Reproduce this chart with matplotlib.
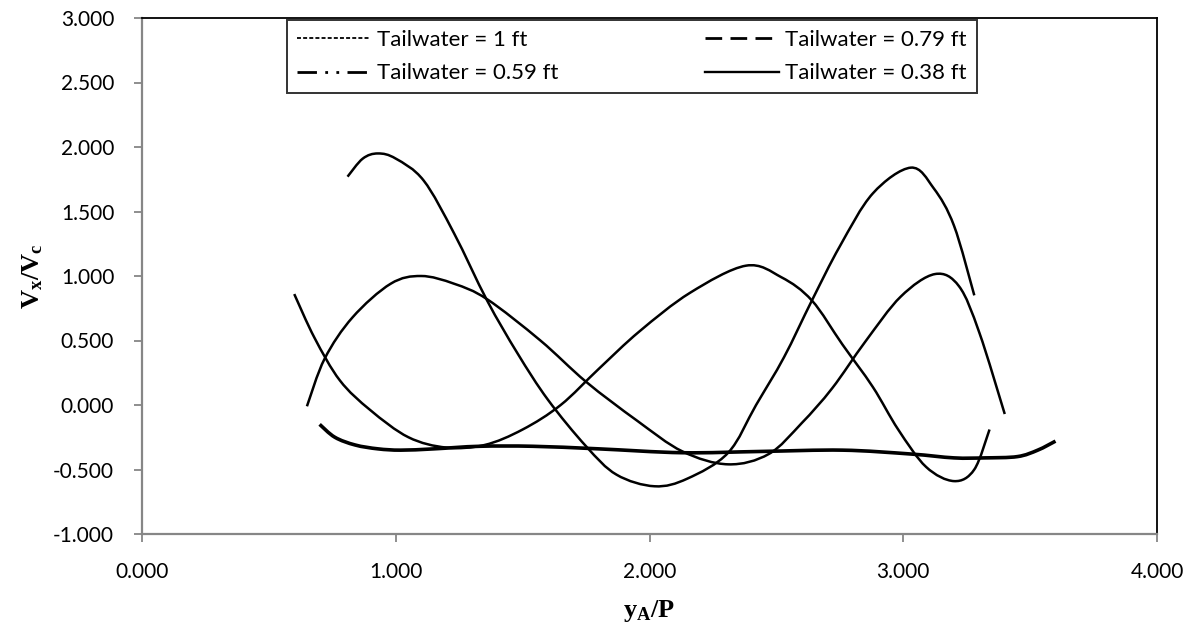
import matplotlib
matplotlib.use("Agg")
import matplotlib.pyplot as plt
from matplotlib.lines import Line2D
from matplotlib.path import Path
import matplotlib.patches as patches
import numpy as np

plt.rcParams['font.family'] = ['Lato', 'DejaVu Sans']
plt.rcParams['mathtext.fontset'] = 'custom'
plt.rcParams['mathtext.rm'] = 'Liberation Serif'
plt.rcParams['mathtext.bf'] = 'Liberation Serif:bold'
plt.rcParams['mathtext.it'] = 'Liberation Serif:italic'

# velocity profiles Vx/Vc against yA/P for each tailwater depth
x_038 = [0.81, 0.87, 0.93, 1.00, 1.11, 1.23, 1.36, 1.48, 1.60, 1.75, 1.87, 2.02,
         2.15, 2.31, 2.42, 2.53, 2.64, 2.75, 2.88, 3.03, 3.12, 3.20, 3.28]
y_038 = [1.77, 1.91, 1.95, 1.91, 1.74, 1.33, 0.81, 0.40, 0.04, -0.32, -0.54, -0.63,
         -0.57, -0.37, 0.00, 0.37, 0.81, 1.23, 1.64, 1.84, 1.68, 1.39, 0.85]

x_059 = [0.65, 0.72, 0.83, 0.98, 1.10, 1.23, 1.36, 1.57, 1.75, 1.95, 2.13, 2.31,
         2.47, 2.60, 2.72, 2.85, 2.99, 3.125, 3.22, 3.30, 3.40]
y_059 = [-0.01, 0.36, 0.68, 0.94, 1.00, 0.94, 0.82, 0.50, 0.18, -0.12, -0.36, -0.46,
         -0.38, -0.14, 0.13, 0.49, 0.84, 1.015, 0.92, 0.56, -0.07]

x_079 = [0.60, 0.68, 0.78, 0.90, 1.05, 1.20, 1.35, 1.50, 1.65, 1.80, 1.96, 2.16,
         2.38, 2.52, 2.64, 2.76, 2.88, 2.98, 3.09, 3.20, 3.28, 3.34]
y_079 = [0.86, 0.52, 0.19, -0.04, -0.25, -0.33, -0.31, -0.19, 0.00, 0.28, 0.57, 0.87,
         1.08, 0.99, 0.81, 0.47, 0.14, -0.19, -0.48, -0.59, -0.50, -0.19]

x_100 = [0.70, 0.76, 0.84, 0.93, 1.02, 1.15, 1.33, 1.54, 1.80, 2.13, 2.44, 2.76, 3.03,
         3.20, 3.32, 3.45, 3.53, 3.60]
y_100 = [-0.15, -0.25, -0.31, -0.34, -0.35, -0.34, -0.32, -0.32, -0.34, -0.37, -0.36, -0.35,
         -0.38, -0.41, -0.41, -0.40, -0.35, -0.28]

labels = ['Tailwater = 1 ft', 'Tailwater = 0.79 ft', 'Tailwater = 0.59 ft', 'Tailwater = 0.38 ft']
xticks = [0, 1, 2, 3, 4]
yticks = [-1.0, -0.5, 0.0, 0.5, 1.0, 1.5, 2.0, 2.5, 3.0]


def smooth_line(ax, xs, ys, lw):
    # spreadsheet-style smoothed line: cubic Bezier through every point
    p = np.column_stack([xs, ys]).astype(float)
    ext = np.vstack([p[0], p, p[-1]])
    verts = [tuple(p[0])]
    codes = [Path.MOVETO]
    for i in range(len(p) - 1):
        c1 = ext[i + 1] + (ext[i + 2] - ext[i]) / 6.0
        c2 = ext[i + 2] - (ext[i + 3] - ext[i + 1]) / 6.0
        verts += [tuple(c1), tuple(c2), tuple(p[i + 1])]
        codes += [Path.CURVE4] * 3
    ax.add_patch(patches.PathPatch(Path(verts, codes), facecolor='none',
                                   edgecolor='black', lw=lw, joinstyle='round',
                                   capstyle='butt'))


fig = plt.figure(figsize=(11.95, 6.31), dpi=100)
ax = fig.add_axes([142/1195, 1 - 534/631, 1015/1195, 516/631])

smooth_line(ax, x_100, y_100, 2.6)
smooth_line(ax, x_079, y_079, 1.8)
smooth_line(ax, x_059, y_059, 1.8)
smooth_line(ax, x_038, y_038, 1.8)

ax.set_xlim(0, 4)
ax.set_ylim(-1, 3)
ax.set_xticks(xticks)
ax.set_yticks(yticks)
ax.set_xticklabels(['%.3f' % v for v in xticks])
ax.set_yticklabels(['%.3f' % v for v in yticks])
ax.tick_params(axis='both', direction='out', length=6, width=1.3, color='#868686',
               labelsize=15, pad=14)

for side in ['left', 'bottom']:
    ax.spines[side].set_color('#868686')
    ax.spines[side].set_linewidth(1.6)
for side in ['top', 'right']:
    ax.spines[side].set_color('black')
    ax.spines[side].set_linewidth(1.3)

ax.set_xlabel(r'$\mathbf{y_A/P}$', fontsize=19, labelpad=12)
ax.set_ylabel(r'$\mathbf{V_x/V_c}$', fontsize=19, labelpad=6)

h_100 = Line2D([], [], color='black', lw=1.3, linestyle=(0, (2.2, 1.2)))
h_079 = Line2D([], [], color='black', lw=2.0, linestyle=(0, (6, 3)))
h_059 = Line2D([], [], color='black', lw=2.0, linestyle=(0, (7, 3, 1, 3, 1, 3)))
h_038 = Line2D([], [], color='black', lw=1.7)
# matplotlib fills legend columns first, so pass entries column by column
order = [0, 2, 1, 3]
handles = [h_100, h_079, h_059, h_038]
leg = ax.legend([handles[i] for i in order], [labels[i] for i in order], ncol=2,
                loc='upper left', bbox_to_anchor=(0.143, 0.997),
                fontsize=16, frameon=True, fancybox=False, edgecolor='black',
                handlelength=3.3, handletextpad=0.3, columnspacing=6.6,
                labelspacing=0.62, borderpad=0.45, borderaxespad=0)
leg.get_frame().set_linewidth(1.4)

fig.savefig('out.png', dpi=100)
